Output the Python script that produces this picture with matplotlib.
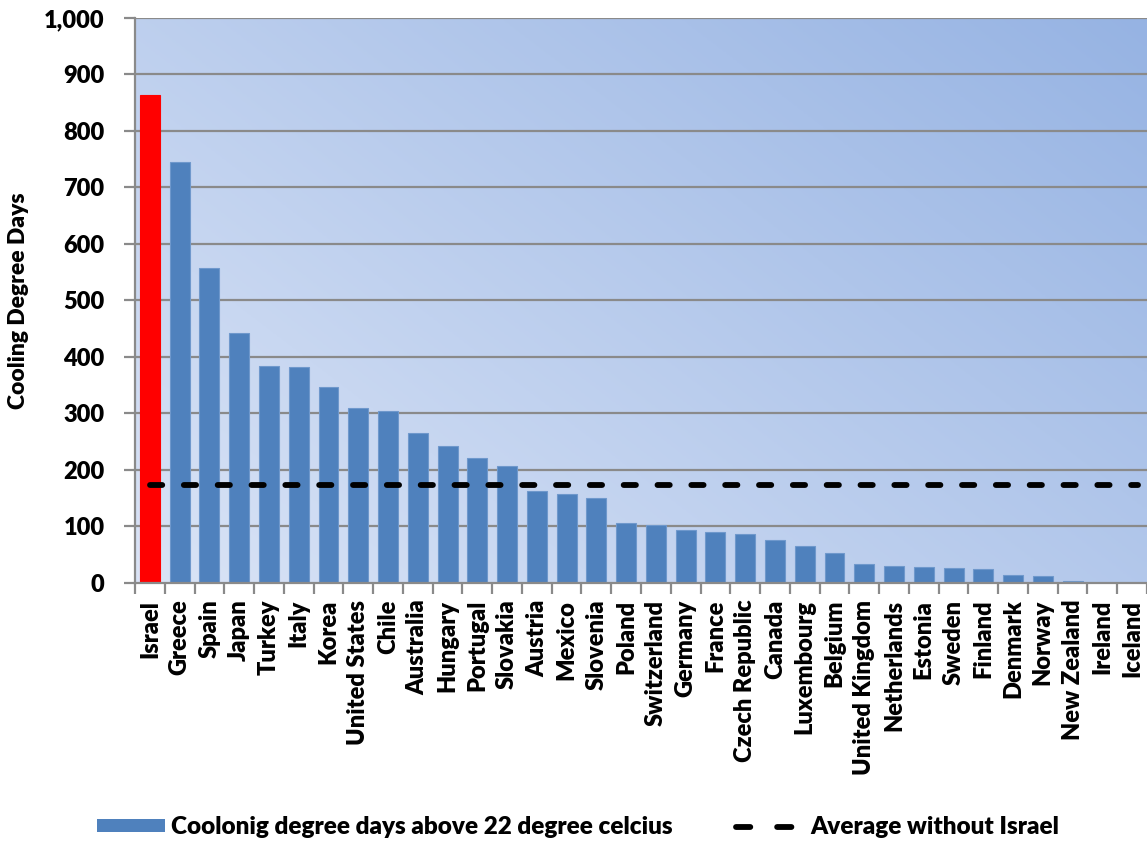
import numpy as np
import matplotlib
matplotlib.use("Agg")
import matplotlib.pyplot as plt
from matplotlib.lines import Line2D
from matplotlib.patches import Patch
from matplotlib.font_manager import FontProperties

countries = ["Israel", "Greece", "Spain", "Japan", "Turkey", "Italy", "Korea",
             "United States", "Chile", "Australia", "Hungary", "Portugal",
             "Slovakia", "Austria", "Mexico", "Slovenia", "Poland", "Switzerland",
             "Germany", "France", "Czech Republic", "Canada", "Luxembourg",
             "Belgium", "United Kingdom", "Netherlands", "Estonia", "Sweden",
             "Finland", "Denmark", "Norway", "New Zealand", "Ireland", "Iceland"]
cdd = [864, 745, 557, 442, 384, 382, 347, 310, 304, 266, 242, 222, 207, 163,
       158, 151, 106, 102, 94, 90, 87, 76, 65, 53, 34, 30, 28, 27, 25, 14, 12, 3,
       0, 0]
average_without_israel = 174

yticks = [0, 100, 200, 300, 400, 500, 600, 700, 800, 900, 1000]
ytick_labels = ["0", "100", "200", "300", "400", "500", "600", "700", "800",
                "900", "1,000"]

plt.rcParams["font.family"] = ["Lato", "DejaVu Sans"]
plt.rcParams["font.weight"] = "heavy"

def bold(size):
    return FontProperties(family=["Lato", "DejaVu Sans"], weight="heavy", size=size)

fig = plt.figure(figsize=(11.47, 8.41), dpi=100)
ax = fig.add_axes([0.1177, 0.3068, 0.8823, 0.6718])

n = len(countries)
x = np.arange(n)
ax.set_xlim(-0.5, n - 0.5)
ax.set_ylim(0, 1000)

# diagonal gradient background
gx, gy = np.meshgrid(np.linspace(0, 1, 200), np.linspace(0, 1, 200))
t = np.clip((gx * 0.75 + gy * 0.55) / 1.3, 0, 1)
c0 = np.array([0.855, 0.894, 0.965])
c1 = np.array([0.588, 0.702, 0.890])
img = c0[None, None, :] * (1 - t[..., None]) + c1[None, None, :] * t[..., None]
ax.imshow(img, extent=[-0.5, n - 0.5, 0, 1000], origin="lower",
          aspect="auto", zorder=0)

for yv in yticks[1:]:
    ax.axhline(yv, color="#8a8a8a", lw=1.6, zorder=1)

colors = ["#ff0000"] + ["#4f81bd"] * (n - 1)
edges = ["#ff0000"] + ["#6f98cc"] * (n - 1)
ax.bar(x, cdd, width=0.67, color=colors, edgecolor=edges, linewidth=0.8,
       zorder=2)

dash = (0, (2.1, 3.7))
ax.plot([0.0, n - 0.8], [average_without_israel] * 2, color="black", lw=4.2,
        linestyle=dash, dash_capstyle="round", zorder=3)

for side in ["top", "right"]:
    ax.spines[side].set_visible(False)
for side in ["left", "bottom"]:
    ax.spines[side].set_color("#8a8a8a")
    ax.spines[side].set_linewidth(1.6)
    ax.spines[side].set_zorder(4)

ax.set_yticks(yticks)
ax.set_yticklabels(ytick_labels)
ax.tick_params(axis="y", length=8, width=1.6, color="#8a8a8a", pad=14)

ax.set_xticks(np.arange(n + 1) - 0.5)
ax.set_xticklabels([])
ax.tick_params(axis="x", length=8, width=1.6, color="#8a8a8a")
ax.set_xticks(x, minor=True)
ax.set_xticklabels(countries, minor=True, rotation=90, va="top", ha="center")
ax.tick_params(axis="x", which="minor", length=0, pad=12)

for lbl in ax.get_yticklabels():
    lbl.set_fontproperties(bold(17))
for lbl in ax.get_xticklabels(minor=True):
    lbl.set_fontproperties(bold(17))

ax.set_ylabel("Cooling Degree Days", fontproperties=bold(16.5))
ax.yaxis.set_label_coords(-0.105, 0.5)

handles = [Patch(facecolor="#4f81bd", edgecolor="none"),
           Line2D([0], [0], color="black", lw=4.2, linestyle=(0, (2.45, 4.6)),
                  dash_capstyle="round")]
labels = ["Coolonig degree days above 22 degree celcius",
          "Average without Israel"]
fig.legend(handles, labels, loc="center", bbox_to_anchor=(0.504, 0.0165),
           ncol=2, frameon=False, handlelength=2.8, handleheight=0.45,
           columnspacing=2.6, handletextpad=0.25, prop=bold(17.5))

fig.savefig("out.png", dpi=100)
